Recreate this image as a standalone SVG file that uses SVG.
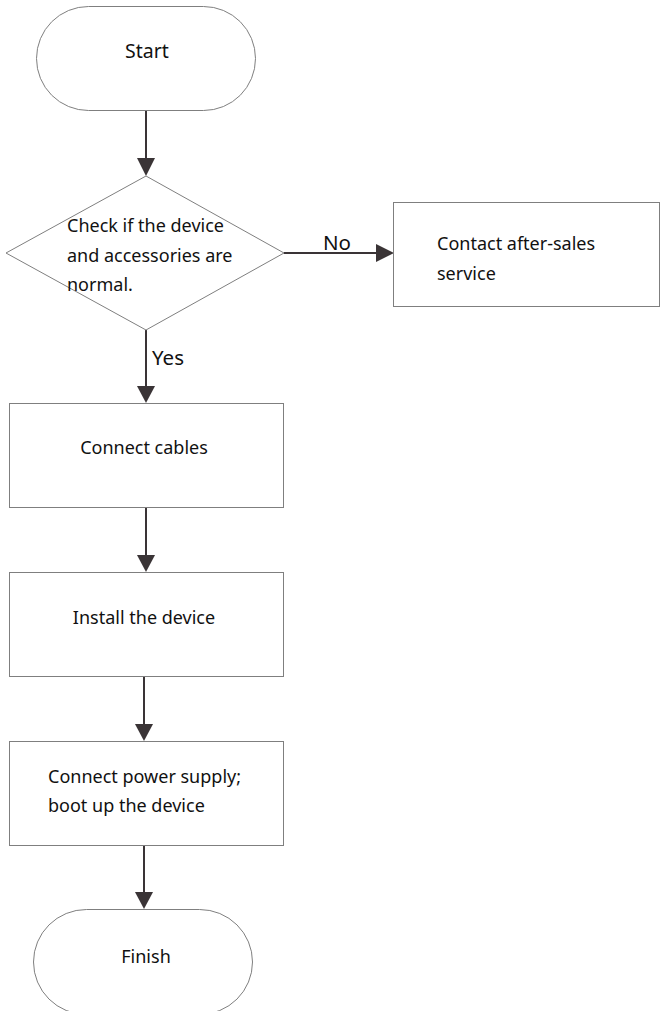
<svg xmlns="http://www.w3.org/2000/svg" width="660" height="1011" viewBox="0 0 660 1011">
<style>
.shape{fill:#fff;stroke:#7f7f7f;stroke-width:1}
.t{font-family:"Noto Sans","Open Sans",sans-serif;font-size:18px;fill:#111}
.lbl{font-size:20.5px}
.c{text-anchor:middle}
.edge{stroke:#3a3436;stroke-width:2;fill:none}
</style>
<rect width="660" height="1011" fill="#fff"/>
<g id="connectors">
<path class="edge" d="M146,111 V158"/><polygon points="137,158 155,158 146,176" fill="#3a3436"/>
<path class="edge" d="M284,253 H376"/><polygon points="376,244 376,262 394,253" fill="#3a3436"/>
<path class="edge" d="M146,330 V386"/><polygon points="137,386 155,386 146,403" fill="#3a3436"/>
<path class="edge" d="M146,508 V555"/><polygon points="137,555 155,555 146,572" fill="#3a3436"/>
<path class="edge" d="M144,677 V724"/><polygon points="135,724 153,724 144,741" fill="#3a3436"/>
<path class="edge" d="M144,846 V892"/><polygon points="135,892 153,892 144,909" fill="#3a3436"/>
<text class="t lbl" x="323" y="250">No</text>
<text class="t lbl" x="152" y="365">Yes</text>
</g>
<g id="start">
<rect class="shape" x="36.5" y="6.5" width="219" height="104" rx="52" ry="52"/>
<text class="t c" x="147" y="58" style="font-size:19.5px">Start</text>
</g>
<g id="check">
<polygon class="shape" points="146,176 284,253 146,330 6,253"/>
<text class="t" x="67" y="232">Check if the device</text>
<text class="t" x="67" y="262">and accessories are</text>
<text class="t" x="67" y="291">normal.</text>
</g>
<g id="contact">
<rect class="shape" x="393.5" y="202.5" width="266" height="104"/>
<text class="t" x="437" y="250">Contact after-sales</text>
<text class="t" x="437" y="280">service</text>
</g>
<g id="cables">
<rect class="shape" x="9.5" y="403.5" width="274" height="104"/>
<text class="t c" x="144" y="454">Connect cables</text>
</g>
<g id="install">
<rect class="shape" x="9.5" y="572.5" width="274" height="104"/>
<text class="t c" x="144" y="624">Install the device</text>
</g>
<g id="power">
<rect class="shape" x="9.5" y="741.5" width="274" height="104"/>
<text class="t" x="48" y="783">Connect power supply;</text>
<text class="t" x="48" y="812">boot up the device</text>
</g>
<g id="finish">
<rect class="shape" x="33.5" y="909.5" width="219" height="105" rx="53" ry="53"/>
<text class="t c" x="146" y="963">Finish</text>
</g>
</svg>
